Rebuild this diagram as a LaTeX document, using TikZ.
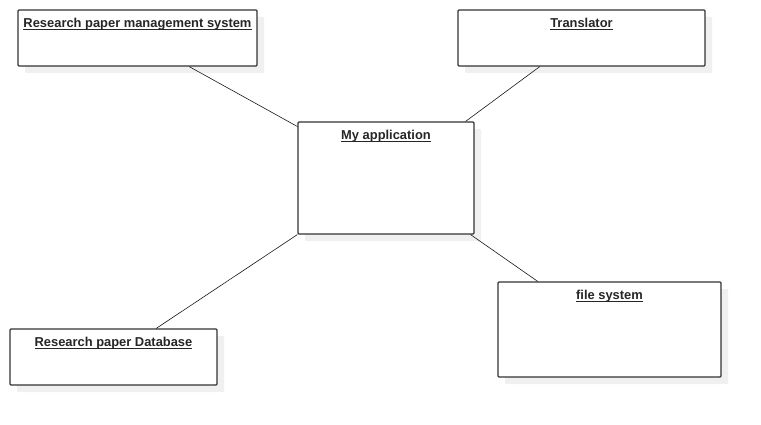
\documentclass[tikz,border=0pt]{standalone}
\usepackage{fontspec}
\setmainfont{Liberation Sans}
\usetikzlibrary{calc,shadows}

\newcommand{\ulname}[1]{\setbox0\hbox{#1}\rlap{\rule[-2.4pt]{\wd0}{0.8pt}}\box0}

\tikzset{
	classbox/.style={draw=black!80,line width=1.1pt,rounded corners=1pt,fill=white,inner sep=0pt,
		drop shadow={shadow xshift=7pt,shadow yshift=-7pt,fill=black!6,opacity=1}},
	classname/.style={anchor=base,inner sep=0pt,font=\fontsize{12.9}{15}\selectfont\bfseries,text=black!85},
	link/.style={draw=black!90,line width=0.6pt}
}

\begin{document}
\begin{tikzpicture}[x=1pt,y=-1pt]
			\useasboundingbox (0,0) rectangle (761,425);
			\node[classbox,minimum width=239pt,minimum height=56pt] (rpms)at(137.5,38) {};
			\node[classbox,minimum width=247pt,minimum height=56pt] (trans)at(581.5,38) {};
			\node[classbox,minimum width=176pt,minimum height=112pt] (app)at(386,178) {};
			\node[classbox,minimum width=207pt,minimum height=56pt] (db)at(113.5,357) {};
			\node[classbox,minimum width=223pt,minimum height=95pt] (fs)at(609.5,329.5) {};
			
			\node[classname] (rpms-t)at([yshift=-18pt]rpms.north) {\ulname{Research paper management system}};
			\node[classname] (trans-t)at([yshift=-18pt]trans.north) {\ulname{Translator}};
			\node[classname] (app-t)at([yshift=-18pt]app.north) {\ulname{My application}};
			\node[classname] (db-t)at([yshift=-18pt]db.north) {\ulname{Research paper Database}};
			\node[classname] (fs-t)at([yshift=-18pt]fs.north) {\ulname{file system}};
			
			\draw[link] ($(rpms.south west)!0.715!(rpms.south east)$) -- ($(app.north west)!0.045!(app.south west)$);
			\draw[link] ($(trans.south west)!0.332!(trans.south east)$) -- ($(app.north west)!0.949!(app.north east)$);
			\draw[link] (app.south west) -- ($(db.north west)!0.705!(db.north east)$);
			\draw[link] ($(app.south west)!0.977!(app.south east)$) -- ($(fs.north west)!0.18!(fs.north east)$);
		\end{tikzpicture}
\end{document}
